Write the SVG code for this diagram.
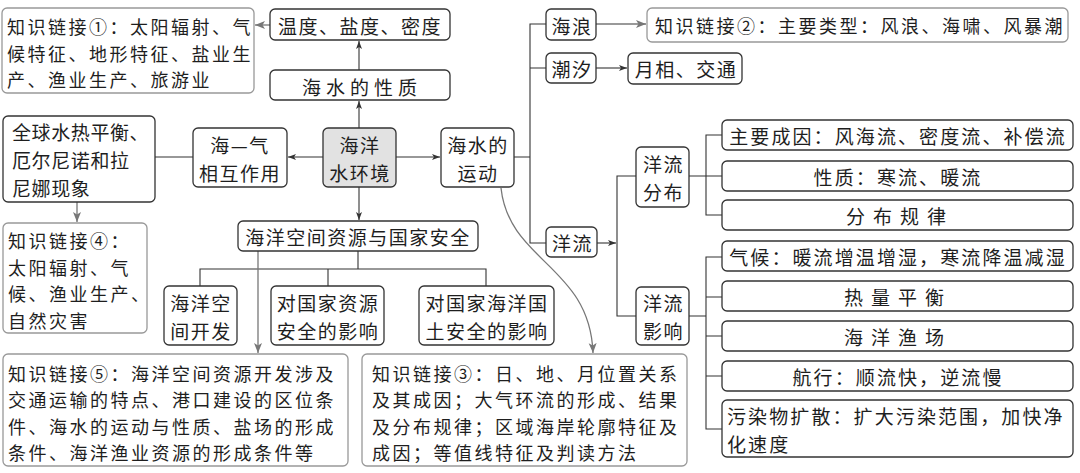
<svg xmlns="http://www.w3.org/2000/svg" width="1080" height="473" viewBox="0 0 1080 473">
<style>
text{font-family:"Noto Sans CJK SC","Noto Sans CJK TC",sans-serif;fill:#1e1e1e;dominant-baseline:central}
.t{font-size:19px;letter-spacing:1.5px;text-anchor:middle}
.tl{font-size:19px;letter-spacing:0.6px}
.r{font-size:19px;letter-spacing:2.1px;text-anchor:middle}
.rl{font-size:19px;letter-spacing:2.1px}
.k{font-size:18px;letter-spacing:2.5px}
.box{fill:#fff;stroke:#333;stroke-width:1.3}
.kbox{fill:#fff;stroke:#999;stroke-width:1.3}
.c{fill:none;stroke:#333;stroke-width:1.1}
.g{fill:none;stroke:#777;stroke-width:1.3}
</style>
<defs>
<marker id="ad" markerUnits="userSpaceOnUse" markerWidth="9" markerHeight="7" refX="8" refY="3" orient="auto"><path d="M0,0 L8,3 L0,6 L2,3 z" fill="#333"/></marker>
<marker id="ag" markerUnits="userSpaceOnUse" markerWidth="11" markerHeight="9" refX="10" refY="4" orient="auto"><path d="M0,0 L10,4 L0,8 L2.5,4 z" fill="#777"/></marker>
</defs>
<rect width="1080" height="473" fill="#fff"/>

<g id="connectors">
<line class="g" x1="270" y1="25" x2="255" y2="25" marker-end="url(#ag)"/>
<line class="c" x1="359" y1="70" x2="359" y2="41" marker-end="url(#ad)"/>
<line class="c" x1="359" y1="128" x2="359" y2="101" marker-end="url(#ad)"/>
<line class="c" x1="323" y1="157" x2="288" y2="157" marker-end="url(#ad)"/>
<line class="c" x1="193" y1="157" x2="155" y2="157"/>
<line class="g" x1="77" y1="202" x2="77" y2="222" marker-end="url(#ag)"/>
<line class="c" x1="396" y1="157" x2="440" y2="157" marker-end="url(#ad)"/>
<line class="c" x1="359" y1="187" x2="359" y2="220" marker-end="url(#ad)"/>
<path class="c" d="M358,251 V269 M200,286 V269 H486 V286 M328,269 V286"/>
<line class="g" x1="258" y1="251" x2="258" y2="353" marker-end="url(#ag)"/>
<path class="g" d="M501,188 C509,262 590,266 593,353" marker-end="url(#ag)"/>
<path class="c" d="M514,157 H530 M546,24 H530 V243 H546 M530,68 H546"/>
<line class="g" x1="596" y1="24" x2="646" y2="24" marker-end="url(#ag)"/>
<line class="c" x1="596" y1="68" x2="627" y2="68" marker-end="url(#ad)"/>
<line class="c" x1="597" y1="243" x2="616" y2="243" marker-end="url(#ad)"/>
<path class="c" d="M636,176 H617 V316 H636"/>
<path class="c" d="M689,176 H706 M722,135 H706 V215 H722 M706,176 H722"/>
<path class="c" d="M689,316 H706 M722,257 H706 V429 H722 M706,297 H722 M706,336 H722 M706,376 H722"/>
</g>

<g id="k1">
<rect class="kbox" x="2" y="8" width="252" height="85" rx="5"/>
<text class="k" x="7" y="26">知识链接①：太阳辐射、气</text>
<text class="k" x="7" y="52.5">候特征、地形特征、盐业生</text>
<text class="k" x="7" y="79">产、渔业生产、旅游业</text>
</g>
<g id="wendu">
<rect class="box" x="270" y="9" width="180" height="31" rx="5"/>
<text class="t" x="360" y="25">温度、盐度、密度</text>
</g>
<g id="xingzhi">
<rect class="box" x="270" y="70" width="180" height="30" rx="5"/>
<text class="t" x="362" y="86" style="letter-spacing:5px">海水的性质</text>
</g>
<g id="center">
<rect class="box" x="323" y="128" width="73" height="59" rx="5" style="fill:#e2e2e2"/>
<text class="t" x="360" y="144">海洋</text>
<text class="t" x="360" y="172">水环境</text>
</g>
<g id="haiqi">
<rect class="box" x="193" y="128" width="94" height="59" rx="5"/>
<text class="t" x="240" y="144">海—气</text>
<text class="t" x="240" y="172">相互作用</text>
</g>
<g id="quanqiu">
<rect class="box" x="3" y="116" width="152" height="86" rx="5"/>
<text class="tl" x="12" y="131">全球水热平衡、</text>
<text class="tl" x="12" y="159">厄尔尼诺和拉</text>
<text class="tl" x="12" y="187">尼娜现象</text>
</g>
<g id="k4">
<rect class="kbox" x="3" y="223" width="144" height="110" rx="5"/>
<text class="k" x="8" y="240">知识链接④：</text>
<text class="k" x="8" y="266.5">太阳辐射、气</text>
<text class="k" x="8" y="293">候、渔业生产、</text>
<text class="k" x="8" y="319.5">自然灾害</text>
</g>
<g id="kongjian">
<rect class="box" x="238" y="221" width="240" height="30" rx="5"/>
<text class="t" x="358" y="236">海洋空间资源与国家安全</text>
</g>
<g id="kaifa">
<rect class="box" x="164" y="286" width="73" height="59" rx="5"/>
<text class="t" x="201" y="302">海洋空</text>
<text class="t" x="201" y="330">间开发</text>
</g>
<g id="ziyuan">
<rect class="box" x="271" y="286" width="113" height="59" rx="5"/>
<text class="t" x="328" y="302">对国家资源</text>
<text class="t" x="328" y="330">安全的影响</text>
</g>
<g id="guotu">
<rect class="box" x="419" y="286" width="135" height="59" rx="5"/>
<text class="t" x="487" y="302">对国家海洋国</text>
<text class="t" x="487" y="330">土安全的影响</text>
</g>
<g id="k5">
<rect class="kbox" x="3" y="354" width="345" height="112" rx="5"/>
<text class="k" x="8" y="372.5">知识链接⑤：海洋空间资源开发涉及</text>
<text class="k" x="8" y="399">交通运输的特点、港口建设的区位条</text>
<text class="k" x="8" y="425.5">件、海水的运动与性质、盐场的形成</text>
<text class="k" x="8" y="452">条件、海洋渔业资源的形成条件等</text>
</g>
<g id="k3">
<rect class="kbox" x="362" y="354" width="325" height="112" rx="5"/>
<text class="k" x="372" y="372.5">知识链接③：日、地、月位置关系</text>
<text class="k" x="372" y="399">及其成因；大气环流的形成、结果</text>
<text class="k" x="372" y="425.5">及分布规律；区域海岸轮廓特征及</text>
<text class="k" x="372" y="452">成因；等值线特征及判读方法</text>
</g>
<g id="yundong">
<rect class="box" x="441" y="128" width="73" height="59" rx="5"/>
<text class="t" x="478" y="144">海水的</text>
<text class="t" x="478" y="172">运动</text>
</g>
<g id="hailang">
<rect class="box" x="546" y="9" width="50" height="31" rx="5"/>
<text class="t" x="572" y="25">海浪</text>
</g>
<g id="k2">
<rect class="kbox" x="647" y="8" width="421" height="34" rx="5"/>
<text class="k" x="655" y="25">知识链接②：主要类型：风浪、海啸、风暴潮</text>
</g>
<g id="chaoxi">
<rect class="box" x="546" y="53" width="50" height="30" rx="5"/>
<text class="t" x="572" y="68">潮汐</text>
</g>
<g id="yuexiang">
<rect class="box" x="628" y="53" width="114" height="31" rx="5"/>
<text class="t" x="686" y="68.5">月相、交通</text>
</g>
<g id="yangliu">
<rect class="box" x="546" y="227" width="51" height="30" rx="5"/>
<text class="t" x="572.5" y="242">洋流</text>
</g>
<g id="fenbu">
<rect class="box" x="636" y="147" width="53" height="60" rx="5"/>
<text class="t" x="663.5" y="163">洋流</text>
<text class="t" x="663.5" y="191">分布</text>
</g>
<g id="yingxiang">
<rect class="box" x="636" y="287" width="53" height="58" rx="5"/>
<text class="t" x="663.5" y="302">洋流</text>
<text class="t" x="663.5" y="330">影响</text>
</g>
<g id="chengyin">
<rect class="box" x="722" y="120" width="351" height="30" rx="5"/>
<text class="r" x="898" y="135">主要成因：风海流、密度流、补偿流</text>
</g>
<g id="xingzhi2">
<rect class="box" x="722" y="161" width="351" height="30" rx="5"/>
<text class="r" x="898" y="176">性质：寒流、暖流</text>
</g>
<g id="guilv">
<rect class="box" x="722" y="200" width="351" height="30" rx="5"/>
<text class="r" x="900" y="215" style="letter-spacing:8px">分布规律</text>
</g>
<g id="qihou">
<rect class="box" x="722" y="241" width="351" height="30" rx="5"/>
<text class="r" x="898" y="256">气候：暖流增温增湿，寒流降温减湿</text>
</g>
<g id="reliang">
<rect class="box" x="722" y="281" width="351" height="30" rx="5"/>
<text class="r" x="898" y="296" style="letter-spacing:8px">热量平衡</text>
</g>
<g id="yuchang">
<rect class="box" x="722" y="321" width="351" height="30" rx="5"/>
<text class="r" x="898" y="336" style="letter-spacing:8px">海洋渔场</text>
</g>
<g id="hangxing">
<rect class="box" x="722" y="361" width="351" height="30" rx="5"/>
<text class="r" x="898" y="376">航行：顺流快，逆流慢</text>
</g>
<g id="wuran">
<rect class="box" x="722" y="400" width="351" height="57" rx="5"/>
<text class="rl" x="727" y="415">污染物扩散：扩大污染范围，加快净</text>
<text class="rl" x="727" y="443">化速度</text>
</g>
</svg>
